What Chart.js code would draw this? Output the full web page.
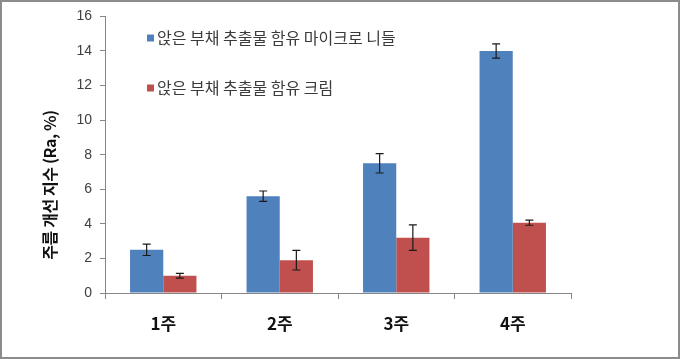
<!DOCTYPE html>
<html><head><meta charset="utf-8">
<script src="https://cdn.jsdelivr.net/npm/chart.js@4.4.0/dist/chart.umd.min.js"></script>
<style>html,body{margin:0;padding:0;background:#fff}#wrap{width:680px;height:359px;position:relative}</style>
</head><body><div id="wrap"><canvas id="c" width="680" height="359"></canvas></div>
<script>
const categories = ["1주", "2주", "3주", "4주"];
const seriesNames = ["앉은 부채 추출물 함유 마이크로 니들", "앉은 부채 추출물 함유 크림"];
const microneedleValues = [2.5, 5.6, 7.5, 14.0];
const microneedleErrors = [0.33, 0.3, 0.56, 0.41];
const creamValues = [1.0, 1.9, 3.2, 4.07];
const creamErrors = [0.14, 0.57, 0.74, 0.15];
const yTicks = [0, 2, 4, 6, 8, 10, 12, 14, 16];
const yTitle = "주름 개선 지수 (Ra, %)";

const KR = '"Noto Sans CJK KR","Liberation Sans",sans-serif';

const errorBars = {
  id: 'errorBars',
  afterDatasetsDraw(chart) {
    const ctx = chart.ctx, ys = chart.scales.y;
    chart.data.datasets.forEach((ds, i) => {
      const meta = chart.getDatasetMeta(i);
      meta.data.forEach((bar, j) => {
        const v = ds.data[j], e = ds.errors[j];
        const yt = ys.getPixelForValue(v + e), yb = ys.getPixelForValue(v - e);
        ctx.save();
        ctx.strokeStyle = '#1a1a1a'; ctx.lineWidth = 1.2;
        ctx.beginPath();
        ctx.moveTo(bar.x, yt); ctx.lineTo(bar.x, yb);
        ctx.moveTo(bar.x - 4, yt); ctx.lineTo(bar.x + 4, yt);
        ctx.moveTo(bar.x - 4, yb); ctx.lineTo(bar.x + 4, yb);
        ctx.stroke();
        ctx.restore();
      });
    });
  }
};

const extras = {
  id: 'extras',
  afterDraw(chart) {
    const ctx = chart.ctx;
    ctx.save();
    // legend
    const ys = [38, 88];
    chart.data.datasets.forEach((ds, i) => {
      ctx.fillStyle = ds.backgroundColor;
      ctx.fillRect(147, ys[i] - 3.5, 7, 7);
      ctx.fillStyle = '#3a3a3a';
      ctx.font = '16px ' + KR;
      ctx.textBaseline = 'middle';
      ctx.textAlign = 'left';
      ctx.fillText(ds.label, 157, ys[i]);
    });
    // y title
    ctx.translate(50, 185);
    ctx.rotate(-Math.PI / 2);
    ctx.font = 'bold 16px ' + KR;
    try { ctx.letterSpacing = '-0.4px'; } catch (e) {}
    ctx.fillStyle = '#111';
    ctx.textAlign = 'center';
    ctx.textBaseline = 'middle';
    ctx.fillText(yTitle, 0, 0);
    ctx.restore();
    // frame
    ctx.save();
    ctx.strokeStyle = '#8c8c8c'; ctx.lineWidth = 2;
    ctx.strokeRect(1, 1, 678, 357);
    ctx.restore();
  }
};

new Chart(document.getElementById('c'), {
  type: 'bar',
  data: {
    labels: categories,
    datasets: [
      { label: seriesNames[0], data: microneedleValues, errors: microneedleErrors, backgroundColor: '#4F81BD' },
      { label: seriesNames[1], data: creamValues, errors: creamErrors, backgroundColor: '#C0504D' }
    ]
  },
  options: {
    responsive: false,
    animation: false,
    devicePixelRatio: 1,
    layout: { padding: { left: 0, right: 109, top: 15, bottom: 0 } },
    datasets: { bar: { categoryPercentage: 0.57, barPercentage: 1.0 } },
    plugins: { legend: { display: false }, tooltip: { enabled: false } },
    scales: {
      x: {
        grid: { offset: true, drawOnChartArea: false, drawTicks: true, tickLength: 6, color: '#868686' },
        border: { color: '#868686', width: 1 },
        ticks: { color: '#111', font: { family: KR, size: 17, weight: 'bold' }, padding: 14 },
        afterFit(s) { s.height = 66; }
      },
      y: {
        min: 0, max: 16,
        afterBuildTicks(s) { s.ticks = yTicks.map(v => ({ value: v })); },
        grid: { drawOnChartArea: false, drawTicks: true, tickLength: 5, color: '#868686' },
        border: { color: '#868686', width: 1 },
        ticks: { color: '#404040', font: { family: '"Liberation Sans",sans-serif', size: 14 }, padding: 8 },
        afterFit(s) { s.width = 105; }
      }
    }
  },
  plugins: [errorBars, extras]
});
</script></body></html>
